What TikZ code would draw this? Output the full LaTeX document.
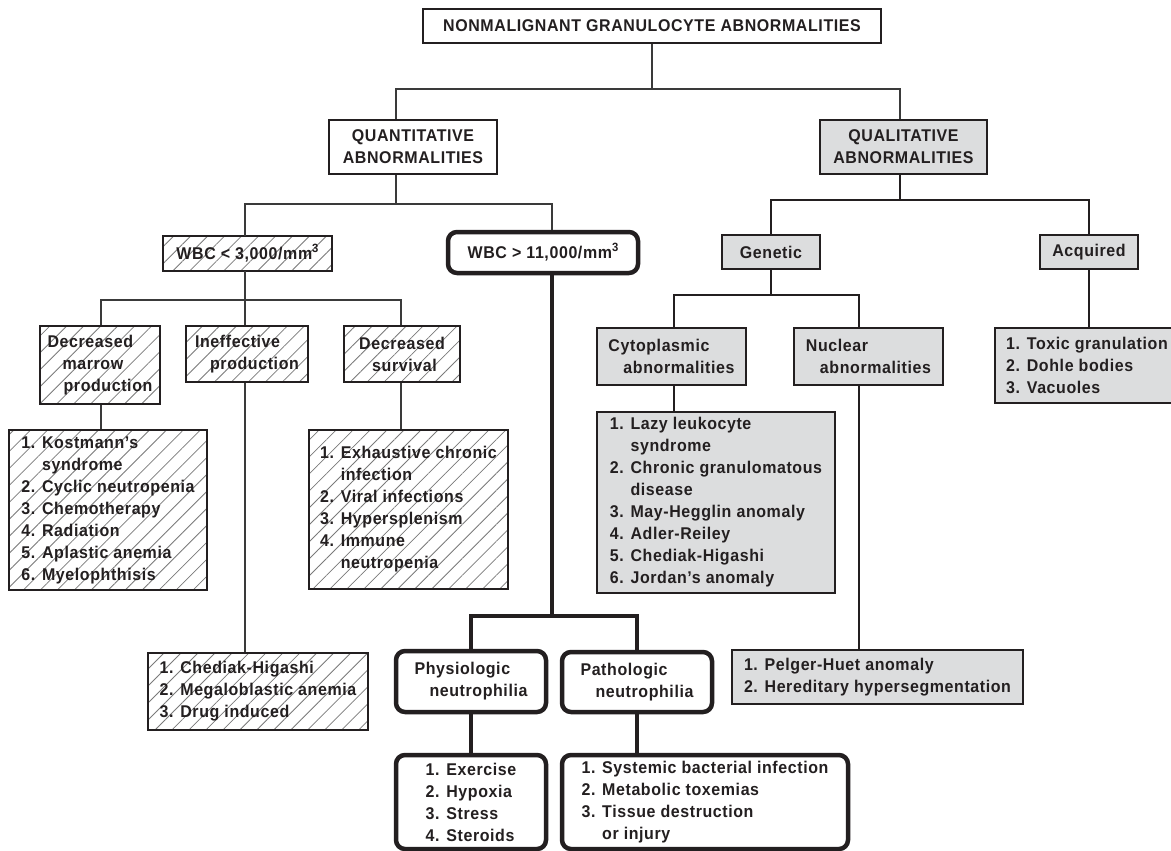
\documentclass[tikz,border=0pt]{standalone}
\usepackage{fontspec}
\setmainfont{Liberation Sans}[LetterSpace=3.5, FakeStretch=0.94]
\usetikzlibrary{patterns.meta}
\definecolor{ink}{HTML}{231F20}
\definecolor{gfill}{HTML}{DCDDDE}
\definecolor{hatchc}{HTML}{7A7A7A}
\definecolor{connc}{HTML}{3A3A3A}
\newcommand\fs{\fontsize{17pt}{22pt}\selectfont\bfseries}
\newcommand\ind{\phantom{1. }}
\newcommand\cube{\raisebox{0.42em}{\fontsize{12pt}{12pt}\selectfont 3}}
\tikzset{
  base/.style={draw=ink, text=ink, line width=2.2pt, inner sep=0pt, align=left, font=\fs},
  plainbox/.style={base, fill=white, align=center},
  graybox/.style={base, fill=gfill},
  hatchbox/.style={base, pattern={Lines[angle=45,distance=12pt,line width=0.8pt]}, pattern color=hatchc},
  thickbox/.style={base, line width=4.5pt, rounded corners=9pt, fill=white},
  conn/.style={draw=connc, line width=1.3pt},
  med/.style={draw=ink, line width=2.2pt},
  thk/.style={draw=ink, line width=4.8pt},
}
\begin{document}
\begin{tikzpicture}[x=1pt,y=-1pt]
\clip (0,0) rectangle (1171,851);
\fill[white] (0,0) rectangle (1171,851);
% nodes
\node[plainbox, minimum width=458, minimum height=34] (top) at (652,26) {NONMALIGNANT GRANULOCYTE ABNORMALITIES};
\node[plainbox, minimum width=168, minimum height=54] (quant) at (413,147) {QUANTITATIVE\\ABNORMALITIES};
\node[graybox, align=center, minimum width=167, minimum height=54] (qual) at (903.5,147) {QUALITATIVE\\ABNORMALITIES};
\node[hatchbox, minimum width=169, minimum height=35] (wbcL) at (247.5,253.5) {WBC < 3,000/mm\cube};
\node[thickbox, minimum width=190, minimum height=41] (wbcH) at (543,252.5) {WBC > 11,000/mm\cube};
\node[graybox, minimum width=98, minimum height=34] (genetic) at (771,252) {Genetic};
\node[graybox, minimum width=98, minimum height=34] (acquired) at (1089,252) {Acquired};
\node[hatchbox, minimum width=120, minimum height=78] (decM) at (100,365) {Decreased\\\hspace*{15pt}marrow\\\hspace*{16pt}production};
\node[hatchbox, minimum width=122, minimum height=56] (ineff) at (247,354) {Ineffective\\\hspace*{15pt}production};
\node[hatchbox, minimum width=116, minimum height=56] (decS) at (402,354) {Decreased\\\hspace*{13pt}survival};
\node[graybox, minimum width=149, minimum height=57] (cyto) at (671.5,356.5) {Cytoplasmic\\\hspace*{15pt}abnormalities};
\node[graybox, minimum width=149, minimum height=57] (nucl) at (868.5,356.5) {Nuclear\\\hspace*{14pt}abnormalities};
\node[graybox, minimum width=184, minimum height=75] (acqList) at (1087,365.5) {1. Toxic granulation\\2. Dohle bodies\\3. Vacuoles};
\node[hatchbox, minimum width=198, minimum height=160] (marrowList) at (108,510) {1. Kostmann’s\\\ind syndrome\\2. Cyclic neutropenia\\3. Chemotherapy\\4. Radiation\\5. Aplastic anemia\\6. Myelophthisis};
\node[hatchbox, minimum width=199, minimum height=159] (survList) at (408.5,509.5) {1. Exhaustive chronic\\\ind infection\\2. Viral infections\\3. Hypersplenism\\4. Immune\\\ind neutropenia};
\node[graybox, minimum width=238, minimum height=181] (cytoList) at (716,502.5) {1. Lazy leukocyte\\\ind syndrome\\2. Chronic granulomatous\\\ind disease\\3. May-Hegglin anomaly\\4. Adler-Reiley\\5. Chediak-Higashi\\6. Jordan’s anomaly};
\node[hatchbox, minimum width=220, minimum height=77] (ineffList) at (258,691.5) {1. Chediak-Higashi\\2. Megaloblastic anemia\\3. Drug induced};
\node[graybox, minimum width=291, minimum height=54] (pelger) at (877.5,677) {1. Pelger-Huet anomaly\\2. Hereditary hypersegmentation};
\node[thickbox, minimum width=150, minimum height=61] (physio) at (471,681.5) {Physiologic\\\hspace*{15pt}neutrophilia};
\node[thickbox, minimum width=150, minimum height=60] (patho) at (637,682) {Pathologic\\\hspace*{15pt}neutrophilia};
\node[thickbox, minimum width=150, minimum height=94] (physList) at (471,802) {1. Exercise\\2. Hypoxia\\3. Stress\\4. Steroids};
\node[thickbox, minimum width=286, minimum height=94] (pathoList) at (705,802) {1. Systemic bacterial infection\\2. Metabolic toxemias\\3. Tissue destruction\\\ind or injury};
% junctions
\coordinate (j1) at (652,89);
\coordinate (jQ) at (396,89);
\coordinate (jR) at (900,89);
\coordinate (jQb) at (396,204);
\coordinate (jL) at (245,204);
\coordinate (jH) at (552,204);
\coordinate (jL2) at (245,300);
\coordinate (jm) at (101,300);
\coordinate (js) at (401,300);
\coordinate (jH2) at (552,616);
\coordinate (jq) at (900,200);
\coordinate (jc) at (674,295);
\coordinate (jn) at (859,295);
% thin connectors
\draw[conn] (top.south) -- (j1);
\draw[conn] (quant.north -| jQ) -- (jQ) -- (jR) -- (qual.north -| jR);
\draw[conn] (quant.south -| jQ) -- (jQb);
\draw[conn] (wbcL.north -| jL) -- (jL) -- (jH) -- (wbcH.north -| jH);
\draw[conn] (wbcL.south -| jL2) -- (jL2);
\draw[conn] (decM.north -| jm) -- (jm) -- (js) -- (decS.north -| js);
\draw[conn] (ineff.north -| jL2) -- (jL2);
\draw[conn] (decM.south -| jm) -- (marrowList.north -| jm);
\draw[conn] (ineff.south -| jL2) -- (ineffList.north -| jL2);
\draw[conn] (decS.south -| js) -- (survList.north -| js);
% thick connectors
\draw[thk] (wbcH.south -| jH) -- (jH2);
\draw[thk] (physio.north) |- (jH2) -| (patho.north);
\draw[thk] (physio.south) -- (physList.north);
\draw[thk] (patho.south) -- (pathoList.north -| patho.south);
% medium connectors
\draw[med] (qual.south -| jq) -- (jq);
\draw[med] (genetic.north) |- (jq) -| (acquired.north);
\draw[med] (genetic.south) -- (genetic.south |- jc);
\draw[med] (cyto.north -| jc) -- (jc) -- (jn) -- (nucl.north -| jn);
\draw[med] (cyto.south -| jc) -- (cytoList.north -| jc);
\draw[med] (nucl.south -| jn) -- (pelger.north -| jn);
\draw[med] (acquired.south) -- (acqList.north -| acquired.south);
\end{tikzpicture}
\end{document}
